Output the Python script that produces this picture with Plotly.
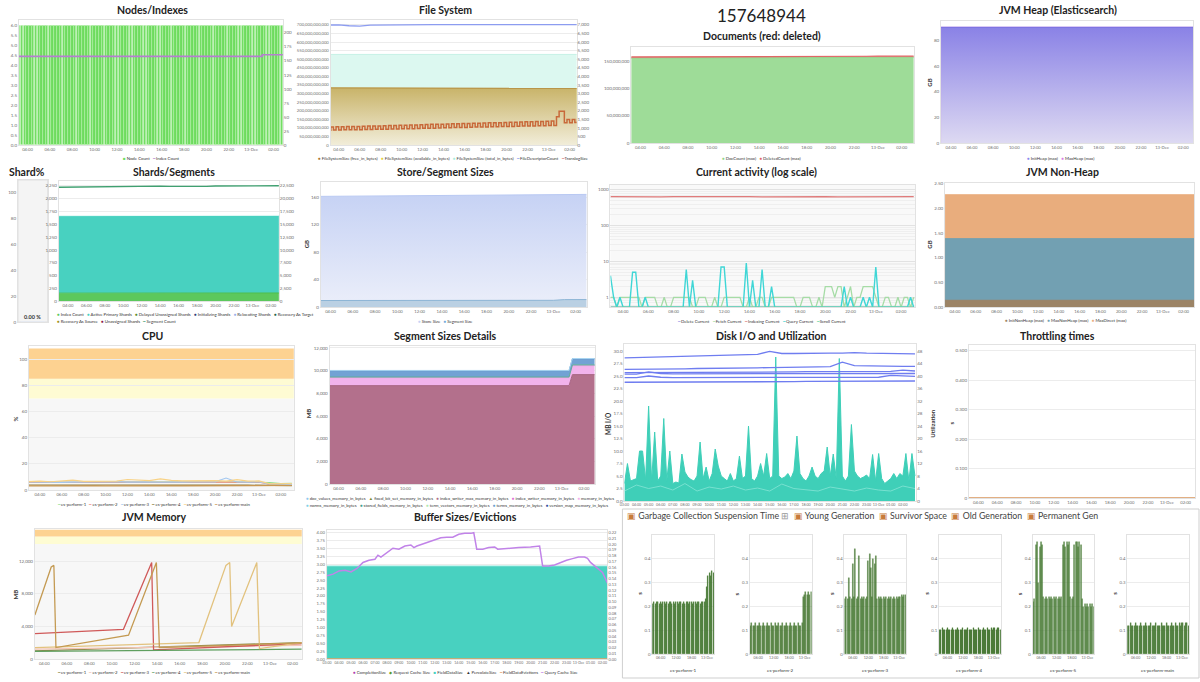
import math
import pandas as pd
import plotly.graph_objects as go

W, H = 1200, 682
FONT = "Lato, Open Sans, sans-serif"
TICKC = "#6e6e6e"
BORDER = "#e2e2e2"
GRIDC = "#ececec"

# ---------------- time bases / ticks ----------------
T15 = pd.date_range("2016-12-12 03:00", "2016-12-13 03:00", freq="15min")   # 97
T60 = pd.date_range("2016-12-12 03:00", "2016-12-13 03:00", freq="60min")   # 25
T30 = pd.date_range("2016-12-12 03:00", "2016-12-13 02:30", freq="30min")   # 48


def ts(s):
    return pd.Timestamp("2016-12-" + s)


ticks_2h = ["12 04:00", "12 06:00", "12 08:00", "12 10:00", "12 12:00", "12 14:00",
            "12 16:00", "12 18:00", "12 20:00", "12 22:00", "13 00:00", "13 02:00"]
labels_2h = ["04:00", "06:00", "08:00", "10:00", "12:00", "14:00",
             "16:00", "18:00", "20:00", "22:00", "13-Dec", "02:00"]
ticks_1h = ["12 03:00", "12 04:00", "12 05:00", "12 06:00", "12 07:00", "12 08:00", "12 09:00",
            "12 10:00", "12 11:00", "12 12:00", "12 13:00", "12 14:00", "12 15:00", "12 16:00",
            "12 17:00", "12 18:00", "12 19:00", "12 20:00", "12 21:00", "12 22:00", "12 23:00",
            "13 00:00", "13 01:00", "13 02:00"]
labels_1h = ["03:00", "04:00", "05:00", "06:00", "07:00", "08:00", "09:00", "10:00", "11:00",
             "12:00", "13:00", "14:00", "15:00", "16:00", "17:00", "18:00", "19:00", "20:00",
             "21:00", "22:00", "23:00", "13-Dec", "01:00", "02:00"]
ticks_gc = ["12 06:00", "12 12:00", "12 18:00", "13 00:00"]
labels_gc = ["06:00", "12:00", "18:00", "13-Dec"]

TICK2H = [ts(s) for s in ticks_2h]
TICK1H = [ts(s) for s in ticks_1h]
TICKGC = [ts(s) for s in ticks_gc]

# ---------------- data ----------------
total_docs = "157648944"

node_count = [6, 6, 6, 6, 6, 6, 6, 6, 6, 6, 6, 6, 6, 6, 6, 6,
              6, 6, 6, 6, 6, 6, 6, 6, 6, 6, 6, 6, 6, 6, 6, 6,
              6, 6, 6, 6, 6, 6, 6, 6, 6, 6, 6, 6, 6, 6, 6, 6,
              6, 6, 6, 6, 6, 6, 6, 6, 6, 6, 6, 6, 6, 6, 6, 6,
              6, 6, 6, 6, 6, 6, 6, 6, 6, 6, 6, 6, 6, 6, 6, 6,
              6, 6, 6, 6, 6, 6, 6, 6, 6, 6, 6, 6, 6, 6, 6, 6, 6]
index_count = [158, 158, 158, 158, 158, 158, 158, 158, 158, 158, 158, 158, 158,
               158, 158, 158, 158, 158, 158, 158, 158, 158, 161, 161, 161]

fs_total_gb = [528, 528, 528, 528, 528, 528, 528, 528, 528, 528, 528, 528, 528,
               528, 528, 528, 528, 528, 528, 528, 528, 528, 528, 528, 528]
fs_free_gb = [333, 333, 333, 334, 332, 331, 331, 331, 331, 331, 331, 331, 331,
              331, 331, 331, 331, 330, 330, 330, 330, 330, 330, 330, 330]
fs_available_gb = [331, 331, 331, 332, 330, 329, 329, 329, 329, 329, 329, 329, 329,
                   329, 329, 329, 329, 328, 328, 328, 328, 328, 328, 328, 328]
fd_count = [6990, 6995, 6950, 6930, 6990, 7000, 7000, 7005, 7005, 7005, 7010, 7010, 7010,
            7010, 7010, 7010, 7010, 7010, 7010, 7010, 7010, 7010, 7010, 7010, 7010]
translog_size = [870, 1060, 880, 1070, 880, 1070, 890, 1080, 890, 1080, 900, 1090,
                 900, 1100, 910, 1110, 910, 1110, 920, 1120, 920, 1130, 930, 1140,
                 940, 1150, 940, 1160, 950, 1160, 960, 1170, 960, 1180, 970, 1190,
                 980, 1200, 990, 1210, 990, 1210, 1000, 1220, 1010, 1230, 1010, 1240,
                 1020, 1250, 1030, 1260, 1030, 1260, 1040, 1270, 1050, 1280, 1050, 1290,
                 1060, 1300, 1070, 1310, 1070, 1310, 1080, 1320, 1090, 1330, 1090, 1340,
                 1100, 1350, 1110, 1360, 1110, 1360, 1120, 1370, 1130, 1380, 1130, 1390,
                 1140, 1400, 1150, 1650, 1980, 1980, 1300, 1500, 1310, 1500, 1320, 1500,
                 1330]

doc_count_m = [155.9, 156.0, 156.0, 156.1, 156.2, 156.2, 156.3, 156.4, 156.4, 156.5, 156.6, 156.6,
               156.7, 156.8, 156.8, 156.9, 157.0, 157.0, 157.1, 157.2, 157.3, 157.4, 157.5, 157.6,
               157.65]
deleted_count_m = [2.3, 2.2, 2.2, 2.3, 2.2, 2.2, 2.3, 2.2, 2.2, 2.3, 2.2, 2.2, 2.3,
                   2.2, 2.2, 2.3, 2.2, 2.2, 2.3, 2.2, 2.2, 2.3, 2.2, 2.2, 2.3]

init_heap_gb = [90, 90, 90, 90, 90, 90, 90, 90, 90, 90, 90, 90, 90,
                90, 90, 90, 90, 90, 90, 90, 90, 90, 90, 90, 90]
max_heap_gb = [90, 90, 90, 90, 90, 90, 90, 90, 90, 90, 90, 90, 90,
               90, 90, 90, 90, 90, 90, 90, 90, 90, 90, 90, 90]

shard_pct = [0.0]

shards_index_count = [158, 158, 158, 158, 158, 158, 158, 158, 158, 158, 158, 158, 158,
                      158, 158, 158, 158, 158, 158, 158, 158, 158, 161, 161, 161]
active_primary_shards = [1512, 1512, 1512, 1512, 1512, 1512, 1512, 1512, 1512, 1512, 1512, 1512, 1512,
                         1512, 1512, 1512, 1512, 1512, 1512, 1512, 1512, 1512, 1515, 1515, 1515]
segment_count = [22250, 22280, 22260, 22240, 22290, 22270, 22310, 22450, 22380, 22430, 22400, 22460,
                 22410, 22380, 22430, 22360, 22400, 22480, 22470, 22500, 22490, 22500, 22510, 22500,
                 22520]

store_size_gb = [161.0, 161.1, 161.2, 161.2, 161.3, 161.5, 161.7, 161.8, 162.0, 162.2, 162.3, 162.5,
                 162.6, 162.7, 162.8, 163.0, 163.1, 163.2, 163.3, 163.1, 163.0, 163.1, 163.4, 163.7,
                 163.9]
segment_size_gb = [9.7, 9.7, 9.7, 9.7, 9.7, 9.7, 9.8, 9.8, 9.8, 9.8, 9.8, 9.8, 9.8,
                   9.8, 9.8, 9.9, 9.9, 9.9, 9.9, 9.9, 9.9, 10.0, 11.0, 11.0, 11.1]

delete_current = [0, 0, 0, 0, 0, 0, 0, 0, 0, 0, 0, 0, 0, 0, 0, 0, 0, 0, 0, 0,
                  0, 0, 0, 0, 0, 0, 0, 0, 0, 0, 0, 0, 0, 0, 0, 0, 0, 0, 0, 0,
                  0, 0, 0, 0, 0, 0, 0, 0, 0, 0, 0, 0, 0, 0, 0, 0, 0, 0, 0, 0,
                  0, 0, 0, 0, 0, 0, 0, 0, 0, 0, 0, 0, 0, 0, 0, 0, 0, 0, 0, 0,
                  0, 0, 0, 0, 0, 0, 0, 0, 0, 0, 0, 0, 0, 0, 0, 0, 0]
fetch_current = [1, 1, 0, 1, 1, 1, 1, 1, 1, 1, 0, 1, 1, 1, 1, 0, 0, 1, 0, 0,
                 1, 1, 1, 1, 1, 1, 0, 0, 1, 1, 1, 0, 0, 1, 0, 0, 1, 1, 1, 1,
                 1, 1, 0, 0, 1, 0, 0, 1, 1, 0, 0, 1, 1, 1, 1, 1, 1, 1, 1, 0,
                 0, 1, 1, 1, 0, 0, 1, 0, 2, 2, 2, 1, 2, 2, 0, 1, 2, 0, 1, 1,
                 2, 2, 2, 2, 1, 0, 0, 1, 1, 0, 0, 1, 0, 1, 1, 0, 1]
query_current = [4, 1, 0, 1, 0, 0, 0, 5, 5, 0, 0, 1, 0, 0, 0, 0, 0, 0, 0, 0,
                 0, 0, 0, 0, 6, 0, 3, 0, 0, 0, 0, 0, 0, 0, 0, 7, 7, 0, 0, 0,
                 0, 0, 0, 9, 0, 3, 0, 0, 6, 0, 0, 2, 0, 0, 0, 0, 0, 0, 0, 0,
                 0, 0, 0, 0, 0, 0, 0, 0, 0, 0, 0, 0, 0, 0, 2, 0, 1, 0, 0, 0,
                 1, 0, 1, 0, 7, 0, 0, 0, 0, 0, 0, 0, 0, 0, 0, 1, 0]
scroll_current = delete_current
indexing_current = [650, 640, 645, 650, 640, 645, 650, 640, 645, 640, 650, 645, 640,
                    645, 650, 640, 645, 650, 640, 645, 650, 640, 645, 650, 645]

init_nonheap_gb = [0.14, 0.14, 0.14, 0.14, 0.14, 0.14, 0.14, 0.14, 0.14, 0.14, 0.14, 0.14, 0.14,
                   0.14, 0.14, 0.14, 0.14, 0.14, 0.14, 0.14, 0.14, 0.14, 0.14, 0.14, 0.14]
max_nonheap_gb = [1.39, 1.39, 1.39, 1.39, 1.39, 1.39, 1.39, 1.39, 1.39, 1.39, 1.39, 1.39, 1.39,
                  1.39, 1.39, 1.39, 1.39, 1.39, 1.39, 1.39, 1.39, 1.39, 1.39, 1.39, 1.39]
max_direct_gb = [2.28, 2.28, 2.28, 2.28, 2.28, 2.28, 2.28, 2.28, 2.28, 2.28, 2.28, 2.28, 2.28,
                 2.28, 2.28, 2.28, 2.28, 2.28, 2.28, 2.28, 2.28, 2.28, 2.28, 2.28, 2.28]

cpu_names = ["es-perform-1", "es-perform-2", "es-perform-3", "es-perform-4", "es-perform-5", "es-perform-main"]
cpu_es1 = [6.1, 6.0, 6.0, 6.1, 6.1, 6.0, 6.2, 6.1, 6.0, 6.1, 6.2, 6.0, 6.1, 6.1, 6.2, 6.0, 6.1, 6.2, 6.2,
           6.1, 6.0, 6.1, 5.8, 4.9, 5.2]
cpu_es2 = [6.0, 5.9, 6.0, 6.0, 5.9, 6.0, 6.1, 6.0, 5.9, 6.0, 6.1, 5.9, 6.0, 6.0, 6.1, 5.9, 6.0, 6.1, 6.1,
           6.0, 5.9, 6.0, 4.6, 4.2, 4.0]
cpu_es3 = [6.3, 6.0, 6.2, 5.9, 6.1, 6.3, 6.0, 6.2, 6.4, 6.1, 6.3, 6.2, 6.0, 6.3, 6.1, 6.2, 6.4, 6.3, 9.2,
           6.2, 6.1, 6.3, 4.5, 4.3, 4.4]
cpu_es4 = [3.9, 3.8, 3.8, 3.9, 3.8, 3.7, 3.8, 3.9, 3.8, 3.8, 3.9, 3.8, 3.7, 3.8, 3.8, 3.9, 3.8, 3.8, 3.9,
           3.8, 3.8, 3.7, 3.4, 3.3, 3.4]
cpu_es5 = [6.5, 6.8, 6.4, 6.9, 7.6, 6.7, 6.8, 7.3, 6.9, 8.1, 7.9, 7.2, 8.5, 7.4, 7.1, 7.3, 7.0, 7.2, 6.9,
           8.0, 6.8, 7.0, 4.8, 4.6, 4.9]
cpu_main = [3.3, 3.2, 3.3, 3.2, 3.3, 3.3, 3.2, 3.3, 3.2, 3.3, 3.3, 3.2, 3.3, 3.2, 3.3, 3.3, 3.2, 3.3, 3.2,
            3.3, 3.3, 3.2, 3.5, 3.6, 3.5]

seg_times = ["12 03:00", "13 00:40", "13 00:58", "13 03:00"]
seg_index_writer_max = [8680, 8680, 9650, 9650]
seg_memory = [700, 700, 790, 790]
seg_stored_fields = [60, 60, 70, 70]
seg_terms = [560, 560, 540, 540]
seg_doc_values = [20, 20, 20, 20]

io_total = [3.5, 7.5, 4.0, 4.3, 4.5, 10.0, 10.0, 4.2, 19.0, 4.0, 13.8, 4.0,
            5.0, 16.5, 4.0, 10.0, 3.5, 3.8, 3.6, 9.4, 5.8, 4.8, 4.3, 4.0,
            5.0, 11.8, 4.5, 6.8, 4.0, 5.5, 10.4, 7.0, 5.0, 4.5, 4.0, 5.5,
            4.0, 4.5, 9.0, 4.5, 5.0, 15.0, 4.5, 4.0, 5.0, 7.5, 5.0, 9.5,
            4.5, 5.0, 28.8, 5.0, 4.5, 4.8, 5.5, 4.5, 6.0, 13.0, 5.5, 4.5,
            4.0, 5.0, 6.8, 5.0, 4.5, 5.5, 6.0, 10.8, 5.0, 9.4, 4.5, 28.5,
            5.0, 4.0, 5.0, 15.3, 6.0, 5.0, 4.5, 4.8, 5.2, 4.5, 9.3, 4.0,
            9.5, 4.5, 3.5, 4.0, 4.5, 5.5, 4.5, 5.5, 5.0, 9.5, 4.0, 9.5, 5.0]
io_read = [2.0, 3.2, 2.5, 3.0, 2.2, 3.5, 2.0, 2.8, 2.4, 3.0, 2.2, 2.6, 2.0,
           3.4, 2.5, 2.2, 2.0, 2.8, 2.4, 2.0, 2.6, 2.2, 2.0, 3.0, 2.5]
util_1 = [45.8, 45.9, 46.0, 46.1, 46.2, 46.3, 46.4, 46.5, 46.6, 46.7, 46.8, 46.9, 47.9,
          47.2, 47.2, 47.3, 47.3, 47.3, 47.3, 47.5, 47.3, 47.2, 47.2, 47.1, 47.1]
util_2 = [42.1, 42.1, 42.2, 42.2, 42.3, 42.3, 42.4, 42.4, 42.5, 42.5, 42.6, 42.6, 42.7,
          42.7, 42.8, 42.8, 42.9, 43.0, 44.4, 43.3, 43.2, 43.2, 43.1, 43.1, 43.1]
util_3 = [41.1, 41.1, 41.2, 41.2, 41.2, 41.2, 41.2, 41.3, 41.3, 41.3, 41.3, 41.3, 41.3,
          41.3, 41.3, 41.4, 41.4, 41.4, 41.4, 41.4, 41.4, 41.4, 41.5, 41.9, 41.6]
util_4 = [40.6, 40.6, 41.3, 40.8, 40.7, 40.7, 40.7, 40.7, 40.7, 40.7, 40.7, 40.7, 40.7,
          40.7, 40.7, 40.7, 40.7, 40.7, 40.7, 40.8, 40.8, 40.8, 40.8, 40.8, 40.8]
util_5 = [39.5, 39.5, 40.0, 39.6, 39.5, 39.5, 39.5, 39.5, 39.5, 39.5, 39.5, 39.5, 39.5,
          39.5, 39.5, 39.5, 39.5, 39.6, 39.6, 39.6, 39.6, 39.6, 40.2, 40.1, 39.9]
util_6 = [38.0, 38.0, 38.0, 38.1, 38.1, 38.1, 38.1, 38.1, 38.1, 38.2, 38.2, 38.2, 38.2,
          38.2, 38.2, 38.3, 38.3, 38.3, 38.3, 38.3, 38.3, 38.4, 38.4, 38.4, 38.4]

throttle_time = [0, 0, 0, 0, 0, 0, 0, 0, 0, 0, 0, 0, 0, 0, 0, 0, 0, 0, 0, 0, 0, 0, 0, 0, 0]

jvm1_t = ["12 03:10", "12 14:00", "13 02:49"]
jvm1_v = [1020, 1480, 2030]
jvm2_t = ["12 03:10", "12 14:00", "13 02:49"]
jvm2_v = [1220, 1450, 1700]
jvm3_t = ["12 03:10", "12 11:01", "12 13:31", "12 13:41", "13 02:49"]
jvm3_v = [3130, 3660, 11850, 1140, 1910]
jvm4_t = ["12 03:10", "12 14:00", "13 02:49"]
jvm4_v = [940, 1080, 1220]
jvm5_t = ["12 03:10", "12 17:42", "12 20:06", "12 20:26", "12 20:36", "12 22:50", "12 23:04", "13 02:49"]
jvm5_v = [1420, 2030, 11500, 11850, 3990, 11850, 1300, 2030]
jvmm_t = ["12 03:10", "12 04:37", "12 04:51", "12 05:02", "12 11:28", "12 13:56", "12 14:12", "13 02:49"]
jvmm_v = [5410, 11300, 11500, 1420, 2930, 11850, 1420, 2000]

field_data_size = [2.96, 2.96, 2.96, 2.96, 2.96, 2.96, 2.96, 2.96, 2.96, 2.96, 2.96, 2.96, 2.96,
                   2.96, 2.96, 2.96, 2.96, 2.96, 2.96, 2.96, 2.96, 2.96, 2.96, 2.96, 2.96]
field_data_evictions = throttle_time
qc_times = ["12 03:00", "12 03:30", "12 04:00", "12 04:30", "12 05:00", "12 05:30", "12 06:00",
            "12 06:30", "12 07:00", "12 07:15", "12 07:30", "12 08:00", "12 08:30", "12 09:00",
            "12 09:30", "12 10:00", "12 10:15", "12 10:30", "12 11:00", "12 11:30", "12 12:00",
            "12 12:30", "12 13:00", "12 13:30", "12 14:00", "12 14:30", "12 15:00", "12 15:15",
            "12 15:30", "12 16:00", "12 16:30", "12 17:00", "12 17:15", "12 18:00", "12 19:00",
            "12 20:00", "12 20:45", "12 21:00", "12 21:30", "12 22:00", "12 22:30", "12 23:00",
            "12 23:30", "13 00:00", "13 00:30", "13 00:45", "13 01:00", "13 01:30", "13 02:00",
            "13 02:25"]
query_cache_size = [2.64, 2.69, 2.79, 2.81, 2.76, 2.87, 3.06, 3.13, 3.16, 3.29, 3.23, 3.37, 3.51,
                    3.48, 3.58, 3.61, 3.53, 3.58, 3.65, 3.72, 3.77, 3.84, 3.86, 3.86, 3.95, 3.98,
                    3.98, 4.00, 3.48, 3.48, 3.53, 3.55, 3.48, 3.51, 3.53, 3.55, 3.58, 2.95, 2.95,
                    2.98, 3.06, 3.13, 3.18, 3.23, 3.23, 3.19, 3.06, 2.90, 2.74, 2.40]

gc_names = ["es-perform-1", "es-perform-2", "es-perform-3", "es-perform-4", "es-perform-5", "es-perform-main"]
gc_1 = [0.21, 0.22, 0.21, 0.22, 0.22, 0.21, 0.22, 0.21, 0.22, 0.22, 0.21, 0.22, 0.21, 0.22, 0.22, 0.21,
        0.22, 0.21, 0.22, 0.22, 0.21, 0.22, 0.22, 0.21, 0.22, 0.21, 0.22, 0.22, 0.21, 0.22, 0.22, 0.21,
        0.22, 0.22, 0.21, 0.22, 0.22, 0.21, 0.22, 0.22, 0.22, 0.23, 0.28, 0.33, 0.34, 0.33, 0.35, 0.34]
gc_2 = [0.12, 0.13, 0.12, 0.12, 0.13, 0.12, 0.12, 0.13, 0.12, 0.12, 0.13, 0.12, 0.12, 0.13, 0.12, 0.12,
        0.13, 0.12, 0.12, 0.13, 0.12, 0.12, 0.13, 0.12, 0.12, 0.13, 0.12, 0.12, 0.13, 0.12, 0.12, 0.13,
        0.12, 0.12, 0.13, 0.12, 0.12, 0.13, 0.12, 0.12, 0.13, 0.24, 0.25, 0.26, 0.25, 0.26, 0.25, 0.26]
gc_3 = [0.23, 0.24, 0.23, 0.32, 0.24, 0.23, 0.38, 0.24, 0.44, 0.23, 0.24, 0.41, 0.23, 0.24, 0.23, 0.24,
        0.23, 0.24, 0.39, 0.42, 0.36, 0.24, 0.40, 0.38, 0.41, 0.23, 0.24, 0.23, 0.24, 0.23, 0.24, 0.23,
        0.24, 0.23, 0.24, 0.23, 0.24, 0.23, 0.24, 0.23, 0.24, 0.23, 0.24, 0.24, 0.25, 0.24, 0.25, 0.25]
gc_4 = [0.10, 0.10, 0.11, 0.10, 0.10, 0.10, 0.11, 0.10, 0.10, 0.10, 0.11, 0.10, 0.10, 0.10, 0.11, 0.10,
        0.10, 0.10, 0.11, 0.10, 0.10, 0.10, 0.11, 0.10, 0.10, 0.10, 0.11, 0.10, 0.10, 0.10, 0.11, 0.10,
        0.10, 0.10, 0.11, 0.10, 0.10, 0.11, 0.10, 0.10, 0.11, 0.10, 0.11, 0.11, 0.10, 0.11, 0.11, 0.10]
gc_5 = [0.22, 0.23, 0.46, 0.47, 0.30, 0.45, 0.47, 0.46, 0.24, 0.23, 0.24, 0.23, 0.24, 0.23, 0.24, 0.23,
        0.24, 0.23, 0.24, 0.23, 0.24, 0.23, 0.24, 0.46, 0.47, 0.45, 0.47, 0.46, 0.47, 0.24, 0.23, 0.24,
        0.46, 0.47, 0.47, 0.45, 0.47, 0.46, 0.23, 0.20, 0.21, 0.20, 0.21, 0.20, 0.21, 0.20, 0.21, 0.20]
gc_6 = [0.12, 0.12, 0.13, 0.12, 0.12, 0.12, 0.13, 0.12, 0.12, 0.12, 0.13, 0.12, 0.12, 0.12, 0.13, 0.12,
        0.12, 0.12, 0.13, 0.12, 0.12, 0.12, 0.13, 0.12, 0.12, 0.12, 0.13, 0.12, 0.12, 0.12, 0.13, 0.12,
        0.12, 0.12, 0.13, 0.12, 0.12, 0.13, 0.12, 0.12, 0.13, 0.12, 0.13, 0.13, 0.12, 0.13, 0.13, 0.12]
gc_tabs = ["Garbage Collection Suspension Time", "Young Generation", "Survivor Space",
           "Old Generation", "Permanent Gen"]

# ---------------- helpers ----------------
fig = go.Figure()
L = dict(width=W, height=H, margin=dict(l=0, r=0, t=0, b=0), paper_bgcolor="white",
         plot_bgcolor="white", showlegend=False, bargap=0,
         font=dict(family=FONT, size=5, color="#333"))
ann = []
shp = []


def aid(p, k):
    return p if k == 1 else f"{p}{k}"


def akey(p, k):
    return f"{p}axis" if k == 1 else f"{p}axis{k}"


PC = [0]


def panel(box, xr, yr, xt=None, xl=None, ydtick=None, yfmt=None, ytv=None, ytt=None,
          ylog=False, xtype="date", xshow=True, ygrid=True, xfs=4.2, yfs=4.5):
    PC[0] += 1
    k = PC[0]
    x0, x1, y0, y1 = box
    xa = dict(domain=[x0 / W, x1 / W], anchor=aid("y", k), range=xr, type=xtype,
              showgrid=False, zeroline=False, showline=True, mirror=True,
              linecolor=BORDER, linewidth=1, ticks="", showticklabels=xshow, tickangle=0,
              tickfont=dict(size=xfs, color=TICKC), fixedrange=True)
    if xt is not None:
        xa.update(tickmode="array", tickvals=xt, ticktext=xl)
    ya = dict(domain=[1 - y1 / H, 1 - y0 / H], anchor=aid("x", k), range=yr,
              type="log" if ylog else "linear", showgrid=ygrid, gridcolor=GRIDC, gridwidth=1,
              zeroline=False, showline=True, mirror=True, linecolor=BORDER, linewidth=1,
              ticks="", tickfont=dict(size=yfs, color=TICKC), fixedrange=True)
    if ytv is not None:
        ya.update(tickmode="array", tickvals=ytv, ticktext=ytt)
    else:
        if ydtick is not None:
            ya["dtick"] = ydtick
        if yfmt is not None:
            ya["tickformat"] = yfmt
    L[akey("x", k)] = xa
    L[akey("y", k)] = ya
    return k


SC = [60]


def right_axis(k, yr, dtick, fmt, fs=4.5):
    SC[0] += 1
    s = SC[0]
    L[akey("y", s)] = dict(overlaying=aid("y", k), anchor=aid("x", k), side="right", range=yr,
                           dtick=dtick, tickformat=fmt, showgrid=False, zeroline=False,
                           showline=False, ticks="", tickfont=dict(size=fs, color=TICKC),
                           fixedrange=True)
    return aid("y", s)


def add(tr, k, y=None):
    tr.update(xaxis=aid("x", k), yaxis=y or aid("y", k), hoverinfo="skip")
    fig.add_trace(tr)


def text(x, y, s, size=4.5, color="#333", bold=False, anchor="center", angle=0):
    ann.append(dict(x=x / W, y=1 - y / H, xref="paper", yref="paper",
                    text=f"<b>{s}</b>" if bold else s, showarrow=False, xanchor=anchor,
                    yanchor="middle", textangle=angle, font=dict(size=size, color=color, family=FONT)))


def title(x, y, s):
    text(x, y, s, size=10.5, color="#222", bold=True)


def legend(x, y, items, anchor="center", size=4.3):
    parts = [f"<span style='color:{c}'>{sym}</span>\u00a0{name}" for sym, c, name in items]
    text(x, y, "\u00a0\u00a0\u00a0".join(parts), size=size, color="#333", anchor=anchor)


def band(k, y0, y1, color):
    shp.append(dict(type="rect", xref=aid("x", k) + " domain", yref=aid("y", k), x0=0, x1=1,
                    y0=y0, y1=y1, fillcolor=color, line=dict(width=0), layer="below"))


def bg(k, color, line=None):
    shp.append(dict(type="rect", xref=aid("x", k) + " domain", yref=aid("y", k) + " domain",
                    x0=0, x1=1, y0=0, y1=1, fillcolor=color,
                    line=dict(width=1 if line else 0, color=line or color), layer="below"))


def line(color, width=1.2, shape="linear"):
    return dict(color=color, width=width, shape=shape)


def tt(lst):
    return [ts(s) for s in lst]


# ================= Row 1 =================
# Nodes / Indexes
k = panel((14, 279, 19, 145), [ts("12 03:14"), ts("13 02:50")], [0, 6.3], TICK2H, labels_2h,
          ydtick=0.5, yfmt=".1f", ygrid=False)
yr = right_axis(k, [0, 223], 25, "d")
add(go.Bar(x=T15, y=node_count, width=810000,
           marker=dict(color="#6edb5e", line=dict(color="#b4efaa", width=0.6))), k)
add(go.Scatter(x=T60, y=index_count, mode="lines", line=line("#b57fcf", 1.6, "hv")), k, yr)
title(148, 9, "Nodes/Indexes")
legend(147, 158, [("■", "#6edb5e", "Node Count"), ("━", "#b57fcf", "Index Count")])

# File System
k = panel((327, 574, 19, 145), [ts("12 03:14"), ts("13 02:40")], [0, 729e9], TICK2H, labels_2h,
          ydtick=50e9, yfmt=",d", yfs=4.2)
yr = right_axis(k, [0, 7290], 500, ",d")
add(go.Scatter(x=T60, y=[v * 1e9 for v in fs_total_gb], mode="lines", fill="tozeroy",
               fillcolor="#dcf8f0", line=line("#c6f1e6", 1)), k)
add(go.Scatter(x=T60, y=[v * 1e9 for v in fs_available_gb], mode="lines", fill="tozeroy",
               fillcolor="#efe59a", line=line("#e2cf52", 1)), k)
add(go.Scatter(x=T60, y=[v * 1e9 for v in fs_free_gb], mode="lines", fill="tozeroy",
               fillgradient=dict(type="vertical", colorscale=[[0, "#f2eedb"], [1, "#c9b46a"]],
                                 start=0, stop=333e9),
               line=line("#b9964a", 1.2)), k)
add(go.Scatter(x=T60, y=fd_count, mode="lines", line=line("#8c9cf0", 1.3)), k, yr)
add(go.Scatter(x=T15, y=translog_size, mode="lines", line=line("#c8693a", 1.5, "hv")), k, yr)
title(442, 9, "File System")
legend(450, 158, [("●", "#a8742e", "FileSystemSize (free_in_bytes)"),
                  ("●", "#e2cf40", "FileSystemSize (available_in_bytes)"),
                  ("●", "#a8eedc", "FileSystemSize (total_in_bytes)"),
                  ("━", "#8c9cf0", "FileDescriptorCount"),
                  ("━", "#d9817a", "TranslogSize")])

# Documents
k = panel((629, 913, 46, 143), [ts("12 03:14"), ts("13 03:03")], [0, 177e6], TICK2H, labels_2h,
          ydtick=50e6, yfmt=",d", ygrid=False)
add(go.Scatter(x=T60, y=[v * 1e6 for v in doc_count_m], mode="lines", stackgroup="d",
               fillcolor="#9edc98", line=line("#93d68c", 1)), k)
add(go.Scatter(x=T60, y=[v * 1e6 for v in deleted_count_m], mode="lines", stackgroup="d",
               fillcolor="#e47a7a", line=line("#e06666", 1.2)), k)
text(760, 15, total_docs, size=17, color="#222")
title(760, 35, "Documents (red: deleted)")
legend(760, 158, [("●", "#8fd488", "DocCount (max)"), ("●", "#e06666", "DeletedCount (max)")])

# JVM Heap
k = panel((940, 1193, 20, 143), [ts("12 03:04"), ts("13 02:56")], [0, 95], TICK2H, labels_2h,
          ydtick=20, yfmt="d", ygrid=False)
add(go.Scatter(x=T60, y=max_heap_gb, mode="lines", fill="tozeroy", fillcolor="#d97be8",
               line=line("#d97be8", 1)), k)
add(go.Scatter(x=T60, y=init_heap_gb, mode="lines", fill="tozeroy",
               fillgradient=dict(type="vertical", colorscale=[[0, "#dedaf2"], [1, "#8a82e6"]],
                                 start=0, stop=90),
               line=line("#7e74e2", 1.2)), k)
title(1057, 9, "JVM Heap (Elasticsearch)")
text(928, 82, "GB", size=6, bold=True, angle=-90)
legend(1060, 158, [("●", "#8a86ee", "InitHeap (max)"), ("●", "#d97be8", "MaxHeap (max)")])

# ================= Row 2 =================
# Shard%
k = panel((13, 43, 180, 323), [-0.5, 0.5], [0, 110], xtype="linear", xshow=False,
          ydtick=20, yfmt="d", ygrid=False)
bg(k, "#f4f4f4", "#dcdcdc")
add(go.Bar(x=[0], y=shard_pct, width=0.8, marker=dict(color="#5cc85c")), k)
title(22, 172, "Shard%")
text(28, 318, f"{shard_pct[0]:.2f} %", size=5.5, bold=True)

# Shards / Segments
k = panel((54, 275, 181, 302), [ts("12 03:00"), ts("13 02:52")], [0, 2347], TICK2H, labels_2h,
          ydtick=250, yfmt=",d")
yr = right_axis(k, [0, 23470], 2500, ",d")
add(go.Scatter(x=T60, y=shards_index_count, mode="lines", stackgroup="sh",
               fillcolor="#5cc85c", line=line("#4fbf4f", 1)), k)
add(go.Scatter(x=T60, y=active_primary_shards, mode="lines", stackgroup="sh",
               fillcolor="#48d1c0", line=line("#e8fbf8", 1)), k)
add(go.Scatter(x=T60, y=segment_count, mode="lines", line=line("#3fa070", 1.4)), k, yr)
title(170, 172, "Shards/Segments")
legend(50, 315, [("●", "#5cc85c", "Index Count"), ("●", "#48d1c0", "Active Primary Shards"),
                 ("●", "#5a8a2a", "Delayed Unassigned Shards"), ("●", "#2a3a7a", "Initializing Shards"),
                 ("●", "#9ab0e8", "Relocating Shards"), ("●", "#1f5f4a", "Recovery As Target")],
       anchor="left")
legend(50, 322, [("●", "#a09020", "Recovery As Source"), ("●", "#8b1a4a", "Unassigned Shards"),
                 ("━", "#3fa070", "Segment Count")], anchor="left")

# Store / Segment Sizes
k = panel((317, 584, 182, 308), [ts("12 03:07"), ts("13 02:59")], [0, 182], TICK2H, labels_2h,
          ydtick=40, yfmt="d")
add(go.Scatter(x=T60, y=store_size_gb, mode="lines", fill="tozeroy",
               fillgradient=dict(type="vertical", colorscale=[[0, "#eceffa"], [1, "#c6d2f4"]],
                                 start=0, stop=164),
               line=line("#b8c8f2", 1)), k)
add(go.Scatter(x=T60, y=segment_size_gb, mode="lines", fill="tozeroy", fillcolor="#bad0e3",
               line=line("#8db5d5", 1)), k)
title(442, 172, "Store/Segment Sizes")
text(303, 245, "GB", size=6, bold=True, angle=-90)
legend(442, 322, [("●", "#c5d2f5", "Store Size"), ("●", "#6fa8d8", "Segment Size")])

# Current activity (log)
FLOOR = 0.53
k = panel((608, 914, 185, 308), [ts("12 03:00"), ts("13 03:07")],
          [math.log10(FLOOR), math.log10(1377)], TICK2H, labels_2h,
          ytv=[1, 10, 100, 1000], ytt=["1", "10", "100", "1000"], ylog=True)
L[akey("y", k)]["minor"] = dict(tickmode="array",
                                tickvals=[m * 10 ** e for e in range(-1, 4) for m in range(2, 10)],
                                showgrid=True, gridcolor="#efefef", gridwidth=1)
L[akey("y", k)]["gridcolor"] = "#e2e2e2"
bg(k, "#f9f9f9")


def lg(vals):
    return [v if v > 0 else FLOOR for v in vals]


add(go.Scatter(x=T15, y=lg(delete_current), mode="lines", line=line("#9a9ae6", 1.2)), k)
add(go.Scatter(x=T15, y=lg(fetch_current), mode="lines", line=line("#a6dca6", 1.3)), k)
add(go.Scatter(x=T60, y=indexing_current, mode="lines", line=line("#e07b7b", 1.3)), k)
add(go.Scatter(x=T15, y=lg(query_current), mode="lines", line=line("#3fd6d6", 1.4)), k)
add(go.Scatter(x=T15, y=lg(scroll_current), mode="lines", line=line("#66d49a", 1.2)), k)
title(755, 172, "Current activity (log scale)")
legend(760, 322, [("━", "#9a9ae6", "Delete Current"), ("━", "#a6dca6", "Fetch Current"),
                  ("━", "#e07b7b", "Indexing Current"), ("━", "#3fd6d6", "Query Current"),
                  ("━", "#66d49a", "Scroll Current")])

# JVM Non-Heap
k = panel((944, 1194, 183, 308), [ts("12 03:03"), ts("13 03:00")], [0, 2.52], TICK2H, labels_2h,
          ydtick=0.5, yfmt=".2f")
add(go.Scatter(x=T60, y=max_direct_gb, mode="lines", fill="tozeroy", fillcolor="#e9ad7d",
               line=line("#e9ad7d", 1)), k)
add(go.Scatter(x=T60, y=max_nonheap_gb, mode="lines", fill="tozeroy", fillcolor="#72a0b2",
               line=line("#72a0b2", 1)), k)
add(go.Scatter(x=T60, y=init_nonheap_gb, mode="lines", fill="tozeroy", fillcolor="#9c8466",
               line=line("#9c8466", 1)), k)
title(1062, 172, "JVM Non-Heap")
text(928, 245, "GB", size=6, bold=True, angle=-90)
legend(1065, 321, [("●", "#9c8466", "InitNonHeap (max)"), ("●", "#72a0b2", "MaxNonHeap (max)"),
                   ("●", "#e9ad7d", "MaxDirect (max)")])

# ================= Row 3 =================
cpu_colors = ["#90e090", "#f08a80", "#a4c8f0", "#8c7a3c", "#f8d285", "#c89650"]
k = panel((24, 290, 347, 492), [ts("12 03:00"), ts("13 03:11")], [0, 110], TICK2H, labels_2h,
          ydtick=20, yfmt="d")
band(k, 0, 70, "#f7f7f7")
band(k, 70, 85, "#fefbd3")
band(k, 85, 108, "#fdd291")
for vals, c in zip([cpu_es1, cpu_es2, cpu_es3, cpu_es4, cpu_es5, cpu_main], cpu_colors):
    add(go.Scatter(x=T60, y=vals, mode="lines", line=line(c, 1.2)), k)
title(148, 337, "CPU")
text(11, 420, "%", size=6, bold=True, angle=-90)
legend(150, 506, [("━", c, n) for c, n in zip(cpu_colors, cpu_names)])

# Segment Sizes Details
k = panel((326, 592, 347, 486), [ts("12 03:12"), ts("13 02:57")], [0, 12175], TICK2H, labels_2h,
          ydtick=2000, yfmt=",d")
ST = tt(seg_times)
for vals, fc, lc in [(seg_index_writer_max, "#b3708c", "#a86383"), (seg_memory, "#f2b3ec", "#eaa2e2"),
                     (seg_stored_fields, "#5fae9a", "#5fae9a"), (seg_terms, "#72a2d4", "#6293c8"),
                     (seg_doc_values, "#a8d4f0", "#a8d4f0")]:
    add(go.Scatter(x=ST, y=vals, mode="lines", stackgroup="seg", fillcolor=fc, line=line(lc, 1)), k)
title(442, 337, "Segment Sizes Details")
text(305, 415, "MB", size=6, bold=True, angle=-90)
legend(300, 500, [("●", "#8ec8f0", "doc_values_memory_in_bytes"), ("▲", "#7a8a30", "fixed_bit_set_memory_in_bytes"),
                  ("●", "#b06f8a", "index_writer_max_memory_in_bytes"), ("●", "#e070d8", "index_writer_memory_in_bytes"),
                  ("●", "#f4b0ec", "memory_in_bytes")], anchor="left")
legend(300, 507, [("●", "#80d0e8", "norms_memory_in_bytes"), ("●", "#40a090", "stored_fields_memory_in_bytes"),
                  ("●", "#b0e8b0", "term_vectors_memory_in_bytes"), ("●", "#6a9fd0", "terms_memory_in_bytes"),
                  ("●", "#3050a0", "version_map_memory_in_bytes")], anchor="left")

# Disk I/O and Utilization
k = panel((622, 915, 345, 503), [ts("12 03:00"), ts("13 03:06")], [0, 31.4], TICK1H, labels_1h,
          ydtick=2.5, yfmt=".1f", xfs=3.6, ygrid=False)
yr = right_axis(k, [0, 50.24], 4, "d")
add(go.Scatter(x=T15, y=io_total, mode="lines", fill="tozeroy", fillcolor="#3fcfb8",
               line=line("#3fcfb8", 1)), k)
add(go.Scatter(x=T60, y=io_read, mode="lines", line=line("#86e5d6", 0.8)), k)
for vals in [util_1, util_2, util_3, util_4, util_5, util_6]:
    add(go.Scatter(x=T60, y=vals, mode="lines", line=line("#6f7df0", 1.3)), k, yr)
title(770, 337, "Disk I/O and Utilization")
text(606, 425, "MB I/O", size=6.5, bold=True, angle=-90)
text(931, 425, "Utilization", size=6, bold=True, angle=-90)

# Throttling times
k = panel((968, 1195, 346, 500), [ts("12 03:00"), ts("13 03:00")], [0, 0.52], TICK2H, labels_2h,
          ytv=[0, 0.1, 0.2, 0.3, 0.4, 0.5], ytt=["0", "0.100", "0.200", "0.300", "0.400", "0.500"])
add(go.Scatter(x=T60, y=throttle_time, mode="lines", line=line("#d8955a", 1.6)), k)
title(1057, 337, "Throttling times")
text(950, 425, "s", size=6, bold=True, angle=-90)

# ================= Row 4 =================
# JVM Memory
jvm_colors = ["#8b8b4b", "#f4c4b4", "#d05a5a", "#5f9f5f", "#e2c27e", "#c49a52"]
k = panel((30, 298, 531, 662), [ts("12 03:10"), ts("13 02:49")], [0, 15980], TICK2H, labels_2h,
          ydtick=4000, yfmt=",d")
band(k, 0, 14120, "#f7f7f7")
band(k, 14120, 15060, "#fefcd3")
band(k, 15060, 15870, "#fdd291")
for tl, vl, c in zip([jvm1_t, jvm2_t, jvm3_t, jvm4_t, jvm5_t, jvmm_t],
                     [jvm1_v, jvm2_v, jvm3_v, jvm4_v, jvm5_v, jvmm_v], jvm_colors):
    add(go.Scatter(x=tt(tl), y=vl, mode="lines", line=line(c, 1.3)), k)
title(150, 519, "JVM Memory")
text(11, 597, "MB", size=6, bold=True, angle=-90)
legend(150, 675, [("━", c, n) for c, n in zip(jvm_colors, cpu_names)])

# Buffer Sizes / Evictions
k = panel((323, 605, 532, 662), [ts("12 02:58"), ts("13 02:25")], [0, 4.09], TICK1H, labels_1h,
          ydtick=0.25, yfmt=".2f", xfs=3.5, yfs=4.2)
yr = right_axis(k, [0, 0.225], 0.01, ".2f", fs=4)
add(go.Scatter(x=T60, y=field_data_size, mode="lines", fill="tozeroy", fillcolor="#48d1c0",
               line=line("#c8f4ee", 1.2)), k)
add(go.Scatter(x=T60, y=field_data_evictions, mode="lines", line=line("#e8a060", 1.5)), k, yr)
add(go.Scatter(x=tt(qc_times), y=query_cache_size, mode="lines", line=line("#c183e8", 1.5)), k)
title(462, 519, "Buffer Sizes/Evictions")
legend(462, 675, [("●", "#b040b0", "CompletionSize"), ("◆", "#5a9a2a", "Request Cache Size"),
                  ("■", "#48d1c0", "FieldDataSize"), ("▲", "#333333", "PercolateSize"),
                  ("━", "#e8a060", "FieldDataEvictions"), ("━", "#c183e8", "Query Cache Size")])

# Garbage collection panel
shp.append(dict(type="rect", xref="paper", yref="paper", x0=620 / W, x1=1199 / W,
                y0=1 - 681 / H, y1=1 - 511 / H, line=dict(color="#cfcfcf", width=1),
                fillcolor="rgba(0,0,0,0)", layer="below"))
icon = "<span style='color:#c87a3a'>▣</span>"
tabs_txt = (f"{icon} {gc_tabs[0]} <span style='color:#999'>⊞</span>\u00a0\u00a0" +
            "\u00a0\u00a0".join(f"{icon} {t}" for t in gc_tabs[1:]))
text(623, 518, tabs_txt, size=8.8, color="#444", anchor="left")
gc_x0 = [650, 748, 843, 938, 1032, 1127]
for x0, vals, name in zip(gc_x0, [gc_1, gc_2, gc_3, gc_4, gc_5, gc_6], gc_names):
    k = panel((x0, x0 + 62, 537, 657), [ts("12 02:45"), ts("13 02:45")], [0, 0.5], TICKGC, labels_gc,
              ytv=[0, 0.1, 0.2, 0.3, 0.4], ytt=["0", "0.1", "0.2", "0.3", "0.4"], xfs=3.6, yfs=4.3)
    add(go.Bar(x=T30, y=vals, width=1500000,
               marker=dict(color="#3b6b2b", line=dict(color="#5d8f45", width=0.3))), k)
    text(x0 - 13, 596, "s", size=6, bold=True, angle=-90)
    text(x0 + 31, 673, name, size=4.5)

L["annotations"] = ann
L["shapes"] = shp
fig.update_layout(**L)
fig.write_html("out.html", config={"displayModeBar": False})
